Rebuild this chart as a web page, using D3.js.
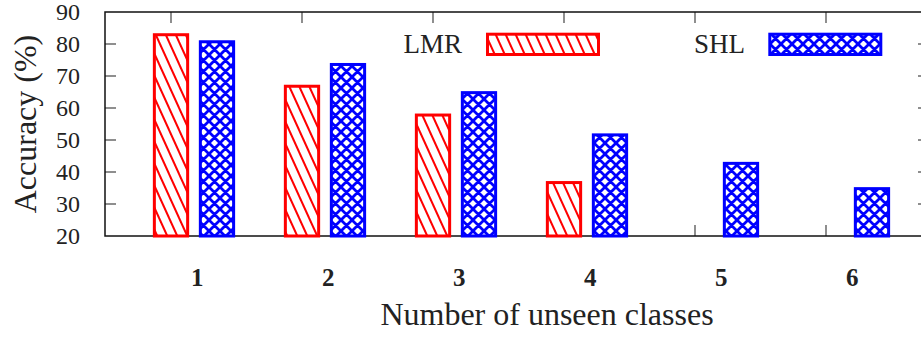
<!DOCTYPE html>
<html>
<head>
<meta charset="utf-8">
<script src="https://cdn.jsdelivr.net/npm/d3@7"></script>
<style>
  body { margin: 0; background: #fff; }
  svg { display: block; font-family: "Liberation Serif", "Times New Roman", serif; }
</style>
</head>
<body>
<div id="chart"></div>
<script>
const categories = ["1", "2", "3", "4", "5", "6"];
const lmrValues = [82.9, 66.8, 57.8, 36.7, null, null];
const shlValues = [80.7, 73.6, 64.8, 51.6, 42.7, 34.8];
const yTicks = [20, 30, 40, 50, 60, 70, 80, 90];
const seriesNames = ["LMR", "SHL"];

const width = 921;
const height = 337;
const plotLeft = 105, plotRight = 929, plotTop = 12, plotBottom = 236;
const tickLen = 11;

const svg = d3.select("#chart").append("svg")
  .attr("width", width)
  .attr("height", height);

const defs = svg.append("defs");

// red "\\\" hatch
const hatch = defs.append("pattern")
  .attr("id", "hatch")
  .attr("patternUnits", "userSpaceOnUse")
  .attr("width", 10).attr("height", 22);
hatch.append("rect").attr("width", 10).attr("height", 22).attr("fill", "#fff");
[[-10, -22, 20, 44], [0, -22, 30, 44], [-20, -22, 10, 44]].forEach(([x1, y1, x2, y2]) => {
  hatch.append("line")
    .attr("x1", x1).attr("y1", y1).attr("x2", x2).attr("y2", y2)
    .attr("stroke", "#ff0000").attr("stroke-width", 2);
});

// blue cross hatch
const p = 11;
const cross = defs.append("pattern")
  .attr("id", "cross")
  .attr("patternUnits", "userSpaceOnUse")
  .attr("width", p).attr("height", p);
cross.append("rect").attr("width", p).attr("height", p).attr("fill", "#fff");
cross.append("path")
  .attr("d", `M-1,-1L${p + 1},${p + 1}M${p + 1},-1L-1,${p + 1}` +
    `M${-p / 2},${p / 2}L${p / 2},${-p / 2}M${p / 2},${1.5 * p}L${1.5 * p},${p / 2}` +
    `M${-p / 2},${p / 2}L${p / 2},${1.5 * p}M${p / 2},${-p / 2}L${1.5 * p},${p / 2}`)
  .attr("stroke", "#0000ff").attr("stroke-width", 2.8);

const x = d3.scaleLinear().domain([1, 6]).range([171, 826]);
const y = d3.scaleLinear().domain([20, 90]).range([plotBottom, plotTop]);

const barW = x(1.254) - x(1);
const blueOffset = 0.351;
const labelOffset = 0.2;

// ticks (drawn under the bars)
const ticks = svg.append("g").attr("stroke", "#444").attr("stroke-width", 1.2);
yTicks.slice(1, -1).forEach(t => {
  ticks.append("line").attr("x1", plotLeft).attr("x2", plotLeft + tickLen).attr("y1", y(t)).attr("y2", y(t));
  ticks.append("line").attr("x1", plotRight).attr("x2", plotRight - tickLen).attr("y1", y(t)).attr("y2", y(t));
});
categories.forEach((c, i) => {
  const cx = x(i + 1);
  ticks.append("line").attr("x1", cx).attr("x2", cx).attr("y1", plotTop).attr("y2", plotTop + tickLen);
  ticks.append("line").attr("x1", cx).attr("x2", cx).attr("y1", plotBottom).attr("y2", plotBottom - tickLen);
});

// frame
svg.append("rect")
  .attr("x", plotLeft).attr("y", plotTop)
  .attr("width", plotRight - plotLeft).attr("height", plotBottom - plotTop)
  .attr("fill", "none").attr("stroke", "#111").attr("stroke-width", 1.5);

// bars
const bars = svg.append("g");
bars.selectAll(".lmr")
  .data(lmrValues.map((v, i) => ({ v, i })).filter(d => d.v != null))
  .join("rect")
  .attr("class", "lmr")
  .attr("x", d => x(d.i + 1) - barW / 2)
  .attr("y", d => y(d.v))
  .attr("width", barW)
  .attr("height", d => y(20) - y(d.v))
  .attr("fill", "url(#hatch)")
  .attr("stroke", "#ff0000")
  .attr("stroke-width", 3);

bars.selectAll(".shl")
  .data(shlValues.map((v, i) => ({ v, i })).filter(d => d.v != null))
  .join("rect")
  .attr("class", "shl")
  .attr("x", d => x(d.i + 1 + blueOffset) - barW / 2)
  .attr("y", d => y(d.v))
  .attr("width", barW)
  .attr("height", d => y(20) - y(d.v))
  .attr("fill", "url(#cross)")
  .attr("stroke", "#0000ff")
  .attr("stroke-width", 3);

// y tick labels
svg.append("g").selectAll("text")
  .data(yTicks)
  .join("text")
  .attr("x", 80)
  .attr("y", d => y(d))
  .attr("dy", "0.33em")
  .attr("text-anchor", "end")
  .attr("font-size", 24)
  .attr("fill", "#222")
  .text(d => d);

// category labels
svg.append("g").selectAll("text")
  .data(categories)
  .join("text")
  .attr("x", (d, i) => x(i + 1 + labelOffset))
  .attr("y", 286)
  .attr("text-anchor", "middle")
  .attr("font-size", 25)
  .attr("font-weight", "bold")
  .attr("fill", "#222")
  .text(d => d);

// axis titles
svg.append("text")
  .attr("x", 547).attr("y", 325)
  .attr("text-anchor", "middle")
  .attr("font-size", 32)
  .attr("fill", "#222")
  .text("Number of unseen classes");

svg.append("text")
  .attr("transform", "translate(36,124) rotate(-90)")
  .attr("text-anchor", "middle")
  .attr("font-size", 32)
  .attr("fill", "#222")
  .text("Accuracy (%)");

// legend
const legend = [
  { name: seriesNames[0], tx: 462, bx: 487.5, fill: "url(#hatch)", stroke: "#ff0000" },
  { name: seriesNames[1], tx: 745, bx: 769.8, fill: "url(#cross)", stroke: "#0000ff" }
];
legend.forEach(l => {
  svg.append("text")
    .attr("x", l.tx).attr("y", 53)
    .attr("text-anchor", "end")
    .attr("font-size", 27)
    .attr("fill", "#222")
    .text(l.name);
  svg.append("rect")
    .attr("x", l.bx).attr("y", 34.2)
    .attr("width", 111).attr("height", 20.3)
    .attr("fill", l.fill)
    .attr("stroke", l.stroke)
    .attr("stroke-width", 3);
});
</script>
</body>
</html>
